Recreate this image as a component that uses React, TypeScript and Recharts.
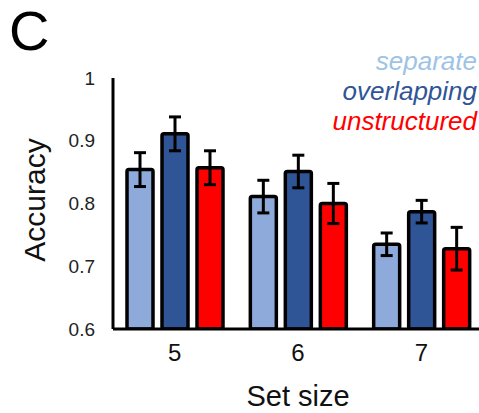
import React from "react";
import { BarChart, Bar, XAxis, YAxis, ErrorBar } from "recharts";

const setSizes = ["5", "6", "7"];
const separate = [0.854, 0.811, 0.735];
const separateErr = [0.027, 0.026, 0.018];
const overlapping = [0.911, 0.851, 0.787];
const overlappingErr = [0.027, 0.026, 0.018];
const unstructured = [0.857, 0.8, 0.728];
const unstructuredErr = [0.027, 0.032, 0.034];
const yTicks = [0.6, 0.7, 0.8, 0.9, 1];

const COLORS = {
  separate: "#8eaadb",
  separateText: "#9dc3e6",
  overlapping: "#2f5597",
  unstructured: "#ff0000",
};

const FONT = "'Liberation Sans', Arial, sans-serif";

const data = setSizes.map((s, i) => ({
  size: s,
  separate: separate[i],
  separateErr: separateErr[i],
  overlapping: overlapping[i],
  overlappingErr: overlappingErr[i],
  unstructured: unstructured[i],
  unstructuredErr: unstructuredErr[i],
}));

// legend is plain coloured text, top right
function LegendText() {
  const row = (label: string, color: string) => (
    <div style={{ color, fontStyle: "italic", fontSize: 26, lineHeight: "30px" }}>{label}</div>
  );
  return (
    <div style={{ position: "absolute", right: 2, top: 46, textAlign: "right", fontFamily: FONT }}>
      {row("separate", COLORS.separateText)}
      {row("overlapping", COLORS.overlapping)}
      {row("unstructured", COLORS.unstructured)}
    </div>
  );
}

export default function App() {
  return (
    <div
      style={{
        position: "absolute",
        left: 0,
        top: 0,
        width: 479,
        height: 413,
        overflow: "hidden",
        background: "#fff",
        fontFamily: FONT,
      }}
    >
      <BarChart
        width={490}
        height={413}
        data={data}
        margin={{ top: 78, right: 7, bottom: 0, left: 0 }}
        barSize={26}
        barGap={9}
      >
        <XAxis
          dataKey="size"
          height={84}
          axisLine={{ stroke: "#000", strokeWidth: 3 }}
          tickLine={false}
          tickMargin={9}
          tick={{ fontSize: 24, fill: "#111", fontFamily: FONT }}
          label={{ value: "Set size", position: "insideBottom", offset: 7, fontSize: 29, fill: "#111", fontFamily: FONT }}
        />
        <YAxis
          width={113}
          domain={[0.6, 1]}
          ticks={yTicks}
          allowDataOverflow
          axisLine={{ stroke: "#000", strokeWidth: 3 }}
          tickLine={false}
          tickMargin={12}
          tick={{ fontSize: 19, fill: "#222", fontFamily: FONT }}
          label={{
            content: () => (
              <text
                x={34}
                y={200}
                transform="rotate(-90 34 200)"
                textAnchor="middle"
                dominantBaseline="central"
                fontSize={30}
                fill="#111"
                fontFamily={FONT}
              >
                Accuracy
              </text>
            ),
          }}
        />
        <Bar dataKey="separate" fill={COLORS.separate} stroke="#000" strokeWidth={3.5} radius={2} isAnimationActive={false}>
          <ErrorBar dataKey="separateErr" width={6} stroke="#000" strokeWidth={3} direction="y" isAnimationActive={false} />
        </Bar>
        <Bar dataKey="overlapping" fill={COLORS.overlapping} stroke="#000" strokeWidth={3.5} radius={2} isAnimationActive={false}>
          <ErrorBar dataKey="overlappingErr" width={6} stroke="#000" strokeWidth={3} direction="y" isAnimationActive={false} />
        </Bar>
        <Bar dataKey="unstructured" fill={COLORS.unstructured} stroke="#000" strokeWidth={3.5} radius={2} isAnimationActive={false}>
          <ErrorBar dataKey="unstructuredErr" width={6} stroke="#000" strokeWidth={3} direction="y" isAnimationActive={false} />
        </Bar>
      </BarChart>
      <LegendText />
      <div style={{ position: "absolute", left: 9, top: 3, fontSize: 56, lineHeight: 1, color: "#000" }}>C</div>
    </div>
  );
}
